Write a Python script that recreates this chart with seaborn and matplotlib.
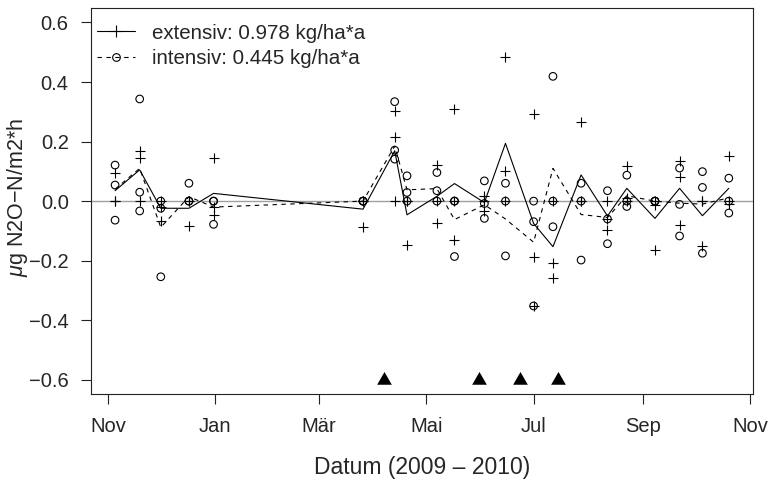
import numpy as np
import pandas as pd
import seaborn as sns
import matplotlib
matplotlib.use('Agg')
import matplotlib.pyplot as plt
from matplotlib.lines import Line2D


# Messtermine (2009 - 2010)
dates = ['2009-11-05', '2009-11-19', '2009-12-01', '2009-12-17', '2009-12-31',
         '2010-03-26', '2010-04-13', '2010-04-20', '2010-05-07', '2010-05-17',
         '2010-06-03', '2010-06-15', '2010-07-01', '2010-07-12', '2010-07-28',
         '2010-08-12', '2010-08-23', '2010-09-08', '2010-09-22', '2010-10-05',
         '2010-10-20']

# extensiv replicates
ext_a = [0.096, 0.168, 0.000, 0.000, 0.145, 0.000, 0.301, 0.000, 0.121, 0.309, 0.018,
         0.483, 0.292, 0.000, 0.267, 0.000, 0.119, 0.000, 0.136, 0.000, 0.150]
ext_b = [0.000, 0.145, -0.020, 0.000, -0.020, 0.000, 0.214, 0.000, 0.000, 0.000, 0.000,
         0.102, -0.186, -0.208, 0.000, -0.060, 0.010, -0.012, 0.080, 0.000, 0.000]
ext_c = [0.000, 0.000, -0.066, -0.083, -0.045, -0.086, 0.000, -0.147, -0.074, -0.131, -0.033,
         0.000, -0.352, -0.259, 0.000, -0.097, 0.000, -0.164, -0.081, -0.150, -0.010]

# intensiv replicates
int_a = [0.121, 0.343, 0.000, 0.060, 0.000, 0.000, 0.334, 0.085, 0.096, 0.000, 0.068,
         0.060, 0.000, 0.419, 0.060, 0.035, 0.087, 0.000, 0.111, 0.099, 0.077]
int_b = [0.054, 0.030, -0.024, 0.000, 0.000, 0.000, 0.171, 0.029, 0.035, 0.000, -0.008,
         0.000, -0.069, 0.000, 0.000, -0.060, 0.000, 0.000, -0.011, 0.046, 0.000]
int_c = [-0.064, -0.033, -0.254, 0.000, -0.078, 0.000, 0.141, 0.000, 0.000, -0.186, -0.058,
         -0.184, -0.352, -0.086, -0.198, -0.143, -0.018, 0.000, -0.117, -0.175, -0.040]

# Mittelwerte (Linien)
ext_mean = [0.035, 0.105, -0.024, -0.024, 0.026, -0.027, 0.169, -0.046, 0.016, 0.059, -0.005,
            0.194, -0.075, -0.153, 0.088, -0.050, 0.043, -0.058, 0.043, -0.049, 0.043]
int_mean = [0.040, 0.110, -0.088, 0.015, -0.020, 0.000, 0.185, 0.038, 0.042, -0.062, -0.012,
            -0.060, -0.138, 0.110, -0.045, -0.055, 0.018, 0.000, -0.007, -0.010, 0.011]

# Duengung (Dreiecke)
tri_dates = ['2010-04-07', '2010-05-31', '2010-06-23', '2010-07-15']
tri_y = [-0.6, -0.6, -0.6, -0.6]

tick_dates = ['2009-11-01', '2010-01-01', '2010-03-01', '2010-05-01',
              '2010-07-01', '2010-09-01', '2010-11-01']
tick_labels = ['Nov', 'Jan', 'Mär', 'Mai', 'Jul', 'Sep', 'Nov']
yticks = [-0.6, -0.4, -0.2, 0.0, 0.2, 0.4, 0.6]

leg_labels = ['extensiv: 0.978 kg/ha*a', 'intensiv: 0.445 kg/ha*a']


sns.set_style("ticks")
plt.rcParams['font.family'] = ['Liberation Sans', 'DejaVu Sans']
plt.rcParams['mathtext.fontset'] = 'custom'
plt.rcParams['mathtext.it'] = 'Liberation Sans:italic'
plt.rcParams['mathtext.rm'] = 'Liberation Sans'

# long format points
d = pd.to_datetime(dates)
pts = pd.DataFrame({'datum': np.tile(d, 3),
                    'ext': ext_a + ext_b + ext_c,
                    'int': int_a + int_b + int_c})
means = pd.DataFrame({'datum': d, 'ext': ext_mean, 'int': int_mean})

fig = plt.figure(figsize=(7.69, 4.8), dpi=100)
ax = fig.add_axes([0.118, 0.179, 0.861, 0.804])

ax.axhline(0, color='#a0a0a0', lw=1.0, zorder=0)

sns.lineplot(data=means, x='datum', y='ext', color='black', lw=0.8, ax=ax)
sns.lineplot(data=means, x='datum', y='int', color='black', lw=0.8,
             linestyle=(0, (4, 4)), ax=ax)

sns.scatterplot(data=pts, x='datum', y='ext', marker='+', color='black',
                s=60, linewidth=0.8, ax=ax)
sns.scatterplot(data=pts, x='datum', y='int', marker='o', facecolor='none',
                edgecolor='black', s=30, linewidth=0.8, ax=ax)

# equilateral filled triangle like R pch 17
tri = [(-1, -0.577), (1, -0.577), (0, 1.155)]
sns.scatterplot(x=pd.to_datetime(tri_dates), y=tri_y, marker=tri, color='black',
                s=150, linewidth=0, ax=ax)

ax.set_xlim(pd.Timestamp('2009-10-22 04:00'), pd.Timestamp('2010-11-02 16:00'))
ax.set_ylim(-0.648, 0.648)
ax.set_xticks(pd.to_datetime(tick_dates))
ax.set_xticklabels(tick_labels)
ax.set_yticks(yticks)
ax.set_yticklabels([f'{v:.1f}'.replace('-', '\u2212') for v in yticks])

ax.tick_params(axis='both', labelsize=14.5, length=7.5, width=0.8,
               color='#222222', direction='out')
ax.tick_params(axis='x', pad=9)
ax.tick_params(axis='y', pad=8.4)
for sp in ax.spines.values():
    sp.set_visible(True)
    sp.set_color('#222222')
    sp.set_linewidth(0.8)

ax.set_xlabel('Datum (2009 – 2010)', fontsize=16.5, va='baseline')
ax.set_ylabel(r'$\mu$g N2O−N/m2*h', fontsize=15.5)
ax.xaxis.set_label_coords(0.5, -0.207)
ax.yaxis.set_label_coords(-0.091, 0.51)

handles = [Line2D([], [], color='black', lw=0.8, marker='+', markersize=9,
                  markeredgewidth=0.8),
           Line2D([], [], color='black', lw=0.8, linestyle=(0, (4, 4)), marker='o',
                  markersize=5.5, markerfacecolor='none', markeredgewidth=0.8)]
ax.legend(handles, leg_labels, loc='upper left', bbox_to_anchor=(0.009, 0.96),
          frameon=False, fontsize=14.8, borderpad=0, borderaxespad=0,
          handlelength=1.85, handletextpad=0.85, labelspacing=0.3)

fig.savefig('out.png', dpi=100)
